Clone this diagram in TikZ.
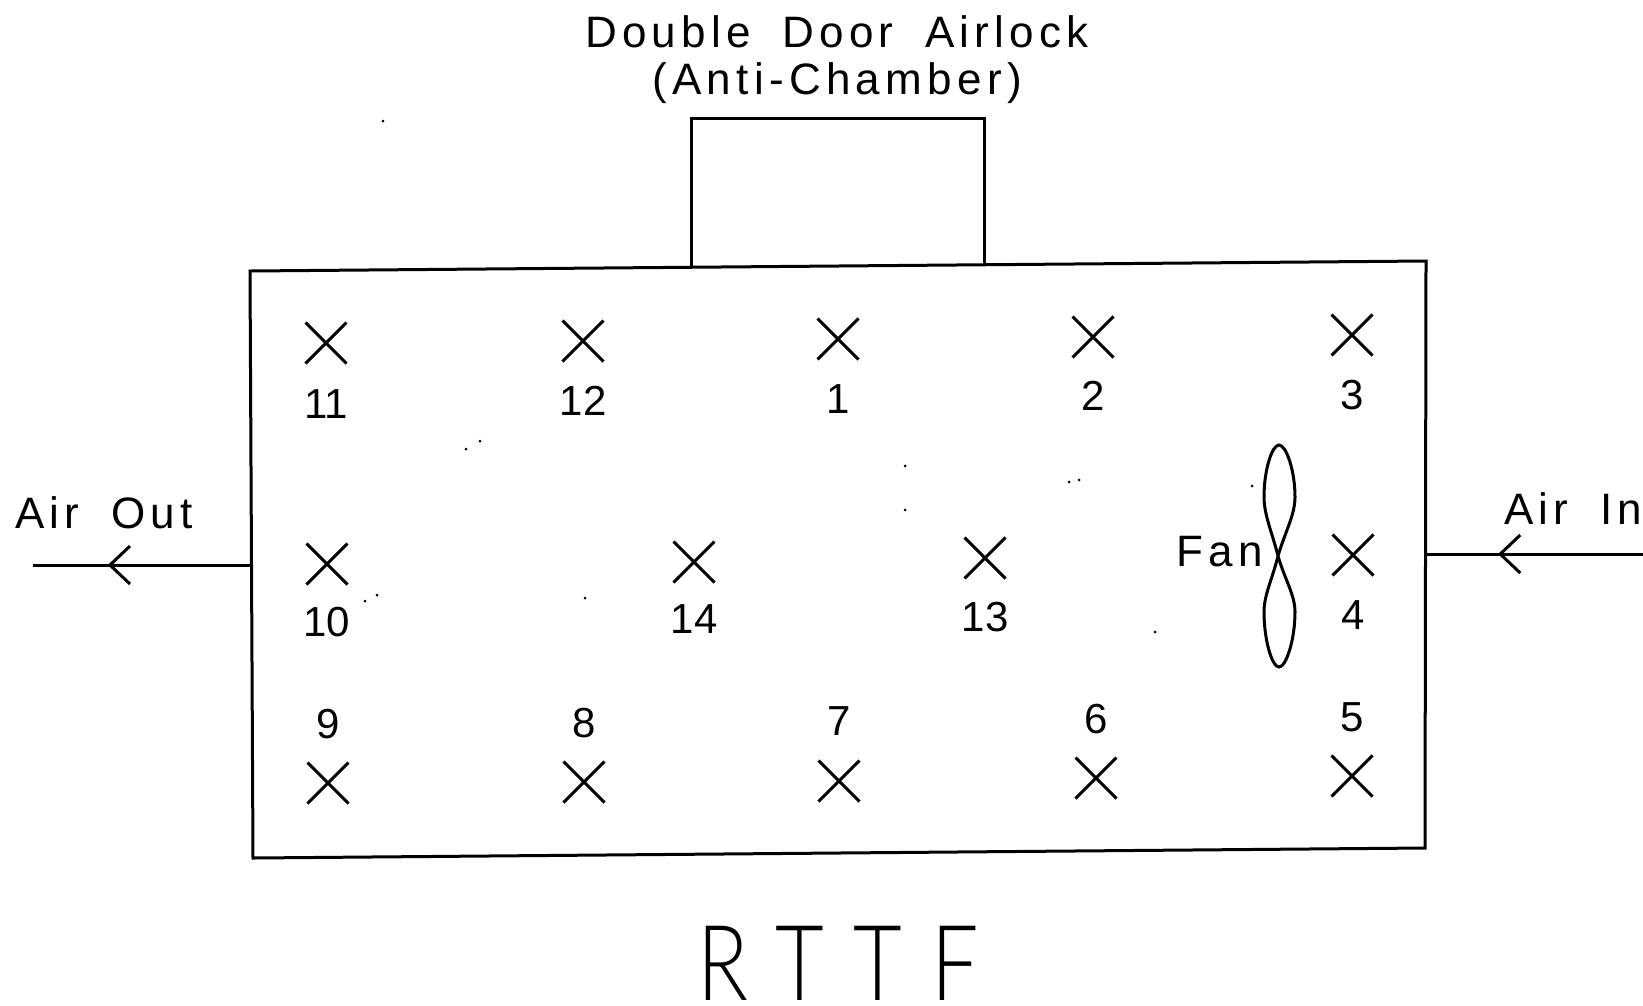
\documentclass[tikz,border=0pt]{standalone}
\usepackage{fontspec}
\usepackage{xcolor}
\setmainfont{Liberation Sans}
\newfontfamily\platefont[LetterSpace=12,WordSpace=1.8]{Liberation Sans}
\newfontfamily\bigfont[LetterSpace=35]{Lato Light}
\usetikzlibrary{decorations.markings,arrows.meta,shapes.misc}

\tikzset{
  plate/.style={line width=3pt,black},
  sensor/.style={cross out,draw,line width=3pt,inner sep=0pt,minimum size=38pt},
  tag/.style={font=\platefont\fontsize{44}{44}\selectfont,inner sep=0pt},
  numtag/.style={font=\fontsize{42}{42}\selectfont,inner sep=0pt},
  speck/.style={circle,fill=black,inner sep=0pt,minimum size=3pt},
  flow/.style={plate,decoration={markings,
    mark=at position #1 with {\arrow{Straight Barb[length=20pt,width=38pt,line width=3pt]}}},
    postaction={decorate}}
}

\begin{document}
\begin{tikzpicture}[x=1pt,y=-1pt]
  \useasboundingbox (0,0) rectangle (1643,1005);
  % room and airlock
  \coordinate (roomTL) at (250,271);
  \coordinate (roomTR) at (1426,261);
  \coordinate (roomBR) at (1425,848);
  \coordinate (roomBL) at (253,858);
  \coordinate (lockL) at (691,267);
  \coordinate (lockR) at (984,264);
  \draw[plate] (roomTL) -- (roomTR) -- (roomBR) -- (roomBL) -- cycle;
  \draw[plate] (lockL) -- (691,118) -- (984,118) -- (lockR);
  % sensors: x/y of the cross, y of the number
  \foreach \x/\y/\ly/\num in {326/343/404/11,583/341/401/12,838/339/399/1,1093/337/396/2,1352/335/395/3,
    327/564/622/10,694/562/619/14,985/558/617/13,1353/555/615/4,
    328/783/724/9,584/782/723/8,839/781/721/7,1096/778/719/6,1352/776/717/5}{
    \node[sensor] (s\num) at (\x,\y) {};
    \node[numtag] (n\num) at (\x,\ly) {\num};
  }
  % air flow
  \coordinate (outwall) at (253,565);
  \coordinate (outend) at (33,565);
  \coordinate (inwall) at (1426,554);
  \coordinate (inend) at (1643,554);
  \draw[flow=.66] (outwall) -- (outend);
  \draw[flow=.668] (inend) -- (inwall);
  \node[tag,anchor=base west] (airout) at (15,528) {Air Out};
  \node[tag,anchor=base west] (airin) at (1504,524) {Air In};
  % fan
  \draw[line width=3pt] (1278,556)
    .. controls (1272,532) and (1264,515) .. (1264,497)
    .. controls (1264,470) and (1272,445) .. (1279,445)
    .. controls (1286,445) and (1295,470) .. (1295,497)
    .. controls (1295,515) and (1285,532) .. (1278,556)
    .. controls (1272,580) and (1264,595) .. (1264,612)
    .. controls (1264,640) and (1272,667) .. (1279,667)
    .. controls (1286,667) and (1295,640) .. (1295,612)
    .. controls (1295,595) and (1285,580) .. (1278,556);
  \node[tag] (fan) at (1220,552) {Fan};
  % titles
  \node[tag] (lock1) at (837,32) {Double Door Airlock};
  \node[tag] (lock2) at (837,83) {(Anti-Chamber)};
  \node[font=\bigfont\fontsize{105}{105}\selectfont,inner sep=0pt,xscale=.8] (rttf) at (838,963) {RTTF};
  % scan specks
  \foreach \x/\y [count=\i] in {383/121,466/449,480/441,905/466,905/510,1069/482,1079/480,1252/486,1155/632,585/598,365/601,377/595}{
    \node[speck] (d\i) at (\x,\y) {};
  }
\end{tikzpicture}
\end{document}
